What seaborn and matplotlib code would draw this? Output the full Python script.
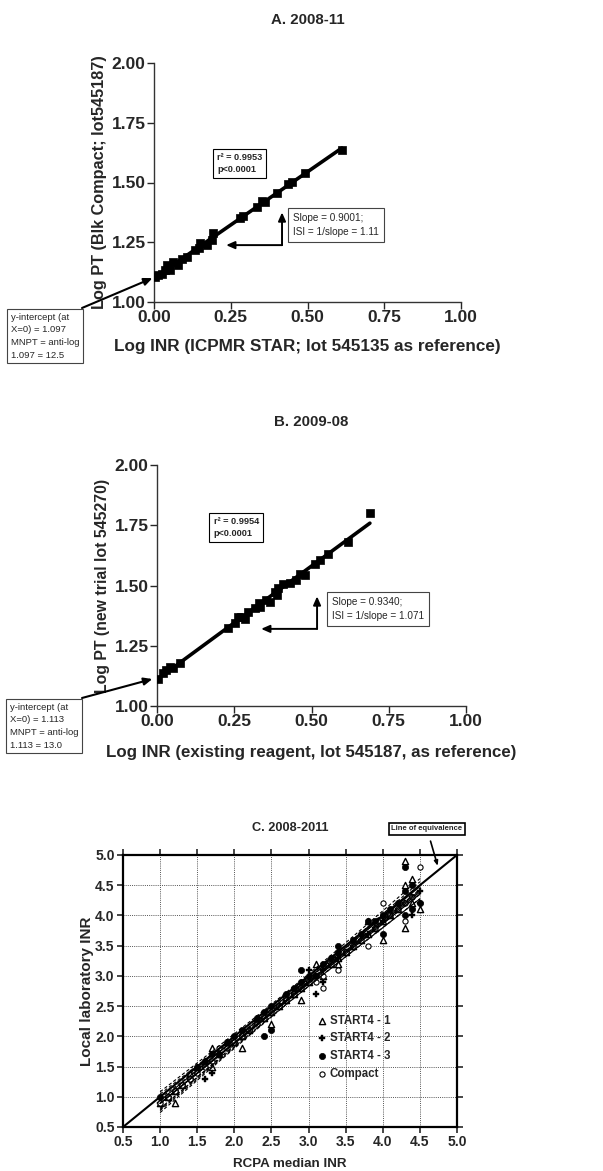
import numpy as np
import pandas as pd
import matplotlib
matplotlib.use("Agg")
import matplotlib.pyplot as plt
import seaborn as sns

# ---------------- data ----------------
# Panel A (2008-11): log INR (reference) vs log PT
a_log_inr = [0.003, 0.014, 0.025, 0.036, 0.041, 0.052, 0.063, 0.079, 0.090, 0.107,
             0.134, 0.145, 0.150, 0.172, 0.188, 0.191, 0.280, 0.291, 0.335, 0.351,
             0.362, 0.400, 0.438, 0.449, 0.492, 0.612]
a_log_pt = [1.105, 1.112, 1.119, 1.133, 1.154, 1.133, 1.168, 1.154, 1.182, 1.190,
            1.217, 1.224, 1.245, 1.238, 1.259, 1.287, 1.350, 1.360, 1.399, 1.422,
            1.417, 1.455, 1.492, 1.502, 1.541, 1.636]

# Panel B (2009-08)
b_log_inr = [0.003, 0.019, 0.030, 0.041, 0.052, 0.073, 0.230, 0.252, 0.262, 0.273,
             0.284, 0.295, 0.316, 0.330, 0.332, 0.354, 0.365, 0.381, 0.387, 0.392,
             0.408, 0.430, 0.451, 0.462, 0.478, 0.510, 0.527, 0.554, 0.619, 0.689]
b_log_pt = [1.112, 1.136, 1.149, 1.160, 1.156, 1.177, 1.322, 1.343, 1.371, 1.368,
            1.360, 1.391, 1.405, 1.428, 1.412, 1.440, 1.433, 1.474, 1.461, 1.488,
            1.506, 1.512, 1.521, 1.549, 1.542, 1.590, 1.607, 1.629, 1.682, 1.799]

# Panel C (2008-2011): RCPA median INR vs local laboratory INR
start4_1 = [(1.0, 0.9), (1.1, 1.0), (1.2, 0.9), (1.2, 1.1), (1.3, 1.2), (1.4, 1.4), (1.5, 1.5),
            (1.6, 1.6), (1.7, 1.8), (1.7, 1.5), (1.8, 1.7), (1.9, 1.9), (2.0, 1.9), (2.1, 1.8),
            (2.1, 2.0), (2.2, 2.1), (2.3, 2.3), (2.4, 2.3), (2.5, 2.2), (2.5, 2.4), (2.6, 2.5),
            (2.7, 2.6), (2.8, 2.7), (2.9, 2.6), (2.9, 2.8), (3.0, 2.9), (3.1, 3.2), (3.2, 3.0),
            (3.3, 3.2), (3.4, 3.2), (3.4, 3.3), (3.5, 3.4), (3.6, 3.5), (3.7, 3.6), (3.8, 3.9),
            (3.8, 3.7), (3.9, 3.8), (4.0, 3.6), (4.0, 3.9), (4.1, 4.0), (4.2, 4.1), (4.3, 4.9),
            (4.3, 4.5), (4.3, 3.8), (4.4, 4.6), (4.4, 4.2), (4.5, 4.1)]
start4_2 = [(1.0, 0.9), (1.1, 1.0), (1.2, 1.1), (1.3, 1.2), (1.4, 1.3), (1.5, 1.4), (1.6, 1.3),
            (1.6, 1.5), (1.7, 1.4), (1.7, 1.6), (1.8, 1.7), (1.9, 1.8), (2.0, 1.9), (2.1, 2.0),
            (2.2, 2.1), (2.3, 2.2), (2.4, 2.3), (2.5, 2.4), (2.6, 2.5), (2.7, 2.6), (2.8, 2.7),
            (2.9, 2.8), (3.0, 3.1), (3.0, 2.9), (3.1, 2.7), (3.1, 3.0), (3.2, 2.9), (3.2, 3.1),
            (3.3, 3.2), (3.4, 3.3), (3.5, 3.4), (3.6, 3.5), (3.7, 3.6), (3.8, 3.7), (3.9, 3.8),
            (4.0, 3.9), (4.1, 4.0), (4.2, 4.1), (4.3, 4.2), (4.4, 4.0), (4.4, 4.3), (4.5, 4.4),
            (4.5, 4.2)]
start4_3 = [(1.0, 1.0), (1.1, 1.0), (1.2, 1.1), (1.3, 1.2), (1.4, 1.3), (1.5, 1.5), (1.6, 1.6),
            (1.7, 1.7), (1.8, 1.7), (1.9, 1.9), (2.0, 2.0), (2.1, 2.1), (2.2, 2.1), (2.3, 2.3),
            (2.4, 2.0), (2.4, 2.4), (2.5, 2.1), (2.5, 2.5), (2.6, 2.5), (2.7, 2.7), (2.8, 2.8),
            (2.9, 3.1), (2.9, 2.9), (3.0, 3.0), (3.1, 3.0), (3.2, 3.2), (3.3, 3.3), (3.4, 3.5),
            (3.4, 3.4), (3.5, 3.4), (3.6, 3.6), (3.7, 3.7), (3.8, 3.9), (3.9, 3.9), (4.0, 3.7),
            (4.0, 4.0), (4.1, 4.1), (4.2, 4.2), (4.3, 4.8), (4.3, 4.4), (4.3, 4.0), (4.4, 4.5),
            (4.4, 4.1), (4.5, 4.2)]
compact = [(1.0, 0.9), (1.1, 1.0), (1.2, 1.1), (1.3, 1.2), (1.4, 1.3), (1.5, 1.4), (1.6, 1.5),
           (1.7, 1.6), (1.8, 1.8), (1.9, 1.8), (2.0, 1.9), (2.1, 2.0), (2.2, 2.1), (2.3, 2.2),
           (2.4, 2.3), (2.5, 2.4), (2.6, 2.5), (2.7, 2.6), (2.8, 2.7), (2.9, 2.8), (3.0, 2.9),
           (3.1, 2.9), (3.2, 2.8), (3.2, 3.0), (3.3, 3.2), (3.4, 3.1), (3.5, 3.4), (3.6, 3.5),
           (3.7, 3.6), (3.8, 3.5), (3.9, 3.8), (4.0, 4.2), (4.1, 4.0), (4.2, 4.1), (4.3, 3.9),
           (4.3, 4.2), (4.4, 4.3), (4.5, 4.8)]
c_series_names = ["START4 - 1", "START4 - 2", "START4 - 3", "Compact"]

ab_ticks_x = [0.00, 0.25, 0.50, 0.75, 1.00]
ab_ticks_y = [1.00, 1.25, 1.50, 1.75, 2.00]
c_ticks = [0.5, 1.0, 1.5, 2.0, 2.5, 3.0, 3.5, 4.0, 4.5, 5.0]

# ---------------- style ----------------
sns.set_style("ticks")
FONT = ["Liberation Sans", "DejaVu Sans"]
plt.rcParams["font.family"] = FONT
plt.rcParams["font.weight"] = "bold"

W, H = 603, 1171
fig = plt.figure(figsize=(W / 100, H / 100), dpi=100)


def fx(px):
    return px / W


def fy(py):
    return 1 - py / H


def panel_ab(ax, xs, ys, title, xlabel, ylabel, xlsize, ylsize, xlpad, r2txt, slopetxt,
             interceptxt, r2pos, slopepos, corner, left_tip, up_tip, box_px, arrow_tip):
    df = pd.DataFrame({"x": xs, "y": ys})
    sns.regplot(data=df, x="x", y="y", ax=ax, scatter=False, ci=None,
                line_kws=dict(color="black", lw=2.6))
    sns.scatterplot(data=df, x="x", y="y", ax=ax, marker="s", s=26,
                    color="black", edgecolor="black", linewidth=0.5, zorder=3)
    ax.set_xlim(0, 1)
    ax.set_ylim(1, 2)
    ax.set_xticks(ab_ticks_x)
    ax.set_xticklabels([f"{v:.2f}" for v in ab_ticks_x])
    ax.set_yticks(ab_ticks_y)
    ax.set_yticklabels([f"{v:.2f}" for v in ab_ticks_y])
    ax.tick_params(labelsize=12.5, width=1.0, length=5, direction="out", pad=1)
    for lab in ax.get_xticklabels() + ax.get_yticklabels():
        lab.set_fontweight("bold")
    sns.despine(ax=ax)
    for sp in ["left", "bottom"]:
        ax.spines[sp].set_linewidth(1.0)
        ax.spines[sp].set_color("#333333")
    ax.set_xlabel(xlabel, fontsize=xlsize, fontweight="bold", labelpad=xlpad)
    ax.set_ylabel(ylabel, fontsize=ylsize, fontweight="bold", labelpad=3)
    ax.set_title(title, fontsize=10.8, fontweight="bold", pad=28)
    ax.text(r2pos[0], r2pos[1], r2txt, fontsize=6.6, fontweight="bold", va="top", ha="left",
            linespacing=1.5,
            bbox=dict(boxstyle="square,pad=0.45", fc="white", ec="black", lw=0.8))
    ax.text(slopepos[0], slopepos[1], slopetxt, fontsize=7.2, fontweight="normal",
            va="top", ha="left", linespacing=1.5,
            bbox=dict(boxstyle="square,pad=0.5", fc="white", ec="#444444", lw=0.8))
    ap = dict(arrowstyle="-|>,head_length=0.5,head_width=0.22", color="black", lw=1.4,
              shrinkA=0, shrinkB=0)
    ax.annotate("", xy=left_tip, xytext=corner, arrowprops=ap)
    ax.annotate("", xy=up_tip, xytext=corner, arrowprops=ap)
    fig.text(fx(box_px[0]), fy(box_px[1]), interceptxt, fontsize=6.8, fontweight="normal",
             va="top", ha="left", linespacing=1.5,
             bbox=dict(boxstyle="square,pad=0.4", fc="white", ec="#444444", lw=0.8))
    ax.annotate("", xy=arrow_tip, xycoords="data",
                xytext=(fx(box_px[2]), fy(box_px[3])), textcoords="figure fraction",
                arrowprops=dict(arrowstyle="-|>,head_length=0.5,head_width=0.22",
                                color="black", lw=1.5, shrinkA=0, shrinkB=0),
                annotation_clip=False)


# Panel A
axA = fig.add_axes([fx(154), fy(302), fx(307), 239 / H])
panel_ab(axA, a_log_inr, a_log_pt, "A. 2008-11",
         "Log INR (ICPMR STAR; lot 545135 as reference)",
         "Log PT (Blk Compact; lot545187)", 12.3, 11.7, 10,
         "r² = 0.9953\np<0.0001", "Slope = 0.9001;\nISI = 1/slope = 1.11",
         "y-intercept (at\nX=0) = 1.097\nMNPT = anti-log\n1.097 = 12.5",
         (0.205, 1.625), (0.452, 1.372), (0.417, 1.238), (0.235, 1.238), (0.417, 1.375),
         (11, 313, 82, 308), (-0.005, 1.10))

# Panel B
axB = fig.add_axes([fx(157), fy(706), fx(309), 241 / H])
panel_ab(axB, b_log_inr, b_log_pt, "B. 2009-08",
         "Log INR (existing reagent, lot 545187, as reference)",
         "Log PT (new trial lot 545270)", 12.2, 11.4, 11,
         "r² = 0.9954\np<0.0001", "Slope = 0.9340;\nISI = 1/slope = 1.071",
         "y-intercept (at\nX=0) = 1.113\nMNPT = anti-log\n1.113 = 13.0",
         (0.183, 1.785), (0.566, 1.452), (0.518, 1.32), (0.337, 1.32), (0.518, 1.455),
         (10, 703, 82, 698), (-0.015, 1.112))

# Panel C
axC = fig.add_axes([fx(123), fy(1127), fx(334), 272 / H])
axC.plot([0.5, 5.0], [0.5, 5.0], color="black", lw=1.5, zorder=4)

series = [start4_1, start4_2, start4_3, compact]
marker_kw = [
    dict(marker="^", s=20, facecolor="white", edgecolor="black", linewidth=1.0),
    dict(marker="P", s=16, color="black", edgecolor="black", linewidth=0.3),
    dict(marker="o", s=20, color="black", edgecolor="black", linewidth=0.5),
    dict(marker="o", s=14, facecolor="white", edgecolor="black", linewidth=0.8),
]
frames = []
for name, pts in zip(c_series_names, series):
    d = pd.DataFrame(pts, columns=["rcpa", "local"])
    d["series"] = name
    frames.append(d)
cdf = pd.concat(frames, ignore_index=True)

for name, kw in zip(c_series_names, marker_kw):
    sub = cdf[cdf["series"] == name]
    sns.scatterplot(data=sub, x="rcpa", y="local", ax=axC, label=name, zorder=3, **kw)

# regression lines with dashed confidence bands
for name in c_series_names:
    sub = cdf[cdf["series"] == name]
    x = sub["rcpa"].to_numpy()
    y = sub["local"].to_numpy()
    sns.regplot(x=x, y=y, ax=axC, scatter=False, ci=None,
                line_kws=dict(color="black", lw=0.9, zorder=5))
    b1, b0 = np.polyfit(x, y, 1)
    n = len(x)
    resid = y - (b0 + b1 * x)
    s = np.sqrt(np.sum(resid ** 2) / (n - 2))
    xg = np.linspace(x.min(), x.max(), 60)
    se = s * np.sqrt(1 / n + (xg - x.mean()) ** 2 / np.sum((x - x.mean()) ** 2))
    for sign in (-1, 1):
        axC.plot(xg, b0 + b1 * xg + sign * 3.0 * se, color="black", lw=0.8,
                 ls=(0, (3, 2)), zorder=5)

axC.set_xlim(0.5, 5.0)
axC.set_ylim(0.5, 5.0)
axC.set_xticks(c_ticks)
axC.set_yticks(c_ticks)
axC.set_xticklabels([f"{v:.1f}" for v in c_ticks])
axC.set_yticklabels([f"{v:.1f}" for v in c_ticks])
axC.grid(True, color="#555555", lw=0.7, ls=(0, (1, 1.2)))
axC.set_axisbelow(True)
axC.tick_params(labelsize=10, width=1.2, length=4, direction="out", pad=2,
                top=True, right=True)
for lab in axC.get_xticklabels() + axC.get_yticklabels():
    lab.set_fontweight("bold")
for sp in axC.spines.values():
    sp.set_linewidth(1.6)
    sp.set_color("black")
axC.set_xlabel("RCPA median INR", fontsize=9.6, fontweight="bold", labelpad=6)
axC.set_ylabel("Local laboratory INR", fontsize=11, fontweight="bold", labelpad=1)
axC.set_title("C. 2008-2011", fontsize=9.2, fontweight="bold", pad=17)

leg = axC.legend(loc="upper left", bbox_to_anchor=(0.565, 0.43), frameon=False,
                 handletextpad=0.15, borderaxespad=0, labelspacing=0.5,
                 handlelength=1.0, prop=dict(weight="bold", size=8.3))

axC.annotate("Line of equivalence", xy=(4.74, 4.82), xycoords="data",
             xytext=(fx(427), fy(829)), textcoords="figure fraction",
             ha="center", va="center", fontsize=5.5, fontweight="bold",
             bbox=dict(boxstyle="square,pad=0.35", fc="white", ec="black", lw=1.2),
             arrowprops=dict(arrowstyle="-|>,head_length=0.5,head_width=0.2",
                             color="black", lw=1.2, shrinkA=4, shrinkB=0),
             annotation_clip=False)

fig.savefig("out.png", dpi=100)
